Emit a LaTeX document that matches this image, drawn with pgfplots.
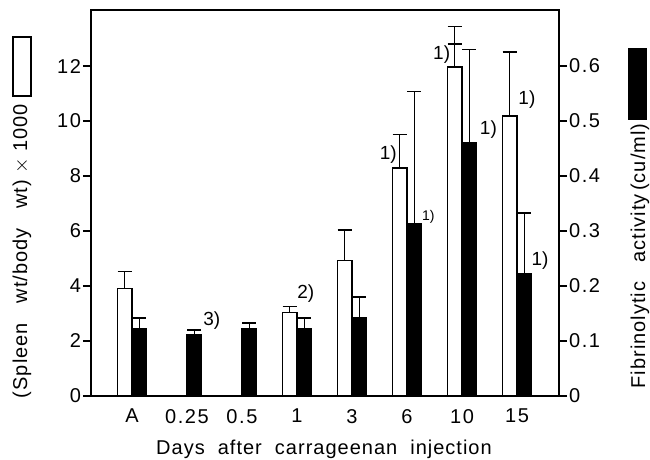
\documentclass[border=0pt]{standalone}
\usepackage{pgfplots}
\pgfplotsset{compat=1.18}
\usepackage{fontspec}
\setmainfont{Liberation Sans}
\newfontfamily\wide[LetterSpace=5]{Liberation Sans}
\newfontfamily\wider[LetterSpace=8]{Liberation Sans}

% white bars: spleen wt / body wt x 1000 (left axis)
\pgfplotstableread{
x y e
0 3.90 0.63
3 3.04 0.22
4 4.93 1.11
5 8.30 1.22
6 11.96 1.49
7 10.18 2.33
}\spleen
% black bars: fibrinolytic activity, cu/ml (right axis)
\pgfplotstableread{
x y e
0 0.122 0.020
1 0.111 0.009
2 0.122 0.011
3 0.122 0.020
4 0.143 0.037
5 0.314 0.240
6 0.461 0.169
7 0.222 0.111
}\fibrin

\pgfplotsset{
  twin/.style={
    scale only axis, width=234pt, height=193pt,
    at={(0,0)}, anchor=south west,
    xmin=-0.745, xmax=7.764, ymin=0,
    ybar, bar width=0.264,
    tick align=outside, major tick length=4pt,
    axis line style={line width=1pt},
    every tick/.style={black, line width=0.8pt},
    tick label style={font=\wider\fontsize{10}{12}\selectfont},
    /pgf/number format/assume math mode=true,
  },
  errs/.style={
    error bars/.cd, y dir=plus, y explicit,
    error bar style={black, line width=0.7pt},
    error mark options={rotate=90, black, mark size=3.5pt, line width=0.7pt},
  },
}

\begin{document}
\begin{tikzpicture}
\begin{axis}[twin,
  ymax=14.04, ytick={0,2,...,12}, ytick pos=left,
  yticklabel style={xshift=2.5pt},
  xtick={0,...,7}, xticklabels={A,0.25,0.5,1,3,6,10,15},
  x tick style={draw=none},
  xticklabel style={yshift=1pt},
]
\addplot[fill=white, draw=black, line width=0.7pt, bar shift=-0.132, errs]
  table[x=x, y=y, y error=e] {\spleen};
% second cap on the day-10 spleen error bar
\addplot[draw=none, fill=none, bar shift=-0.132, errs]
  coordinates {(6,11.96) +- (0,0.84)};
\node[font=\fontsize{9.5}{11}\selectfont] at (axis cs:1.45,2.75) {3)};
\node[font=\fontsize{9.5}{11}\selectfont] at (axis cs:3.16,3.72) {2)};
\node[font=\fontsize{9.5}{11}\selectfont] at (axis cs:4.66,8.79) {1)};
\node[font=\fontsize{7}{8}\selectfont] at (axis cs:5.39,6.50) {1)};
\node[font=\fontsize{9.5}{11}\selectfont] at (axis cs:5.63,12.42) {1)};
\node[font=\fontsize{9.5}{11}\selectfont] at (axis cs:6.48,9.70) {1)};
\node[font=\fontsize{9.5}{11}\selectfont] at (axis cs:7.18,10.79) {1)};
\node[font=\fontsize{9.5}{11}\selectfont] at (axis cs:7.42,4.93) {1)};
\end{axis}
\begin{axis}[twin,
  ymax=0.702, hide x axis, ytick pos=right,
  ytick={0,0.1,0.2,0.3,0.4,0.5,0.6},
  yticklabel style={xshift=-2.5pt, /pgf/number format/fixed, /pgf/number format/precision=1},
]
\addplot[fill=black, draw=black, line width=0.7pt, bar shift=0.132, errs]
  table[x=x, y=y, y error=e] {\fibrin};
\end{axis}
% axis titles and key boxes
\node[rotate=90, font=\wide\fontsize{10}{12}\selectfont] at (-34.5pt,72.5pt)
  {(Spleen\ \ \ wt/body\ \ \ wt)\ $\times$\ 1000};
\draw[line width=0.8pt, fill=white] (-39pt,150pt) rectangle (-30pt,179.5pt);
\node[rotate=90, font=\wide\fontsize{10}{12}\selectfont] at (274.5pt,70pt)
  {Fibrinolytic\ \ \ activity\,(cu/ml)};
\fill[black] (268.5pt,138pt) rectangle (278pt,174pt);
\node[anchor=base, font=\wide\fontsize{10}{12}\selectfont] at (116.5pt,-29.5pt)
  {Days\ \ after\ \ carrageenan\ \ injection};
\pgfresetboundingbox
\useasboundingbox (-45.5pt,-32pt) rectangle (279.5pt,198pt);
\end{tikzpicture}
\end{document}
